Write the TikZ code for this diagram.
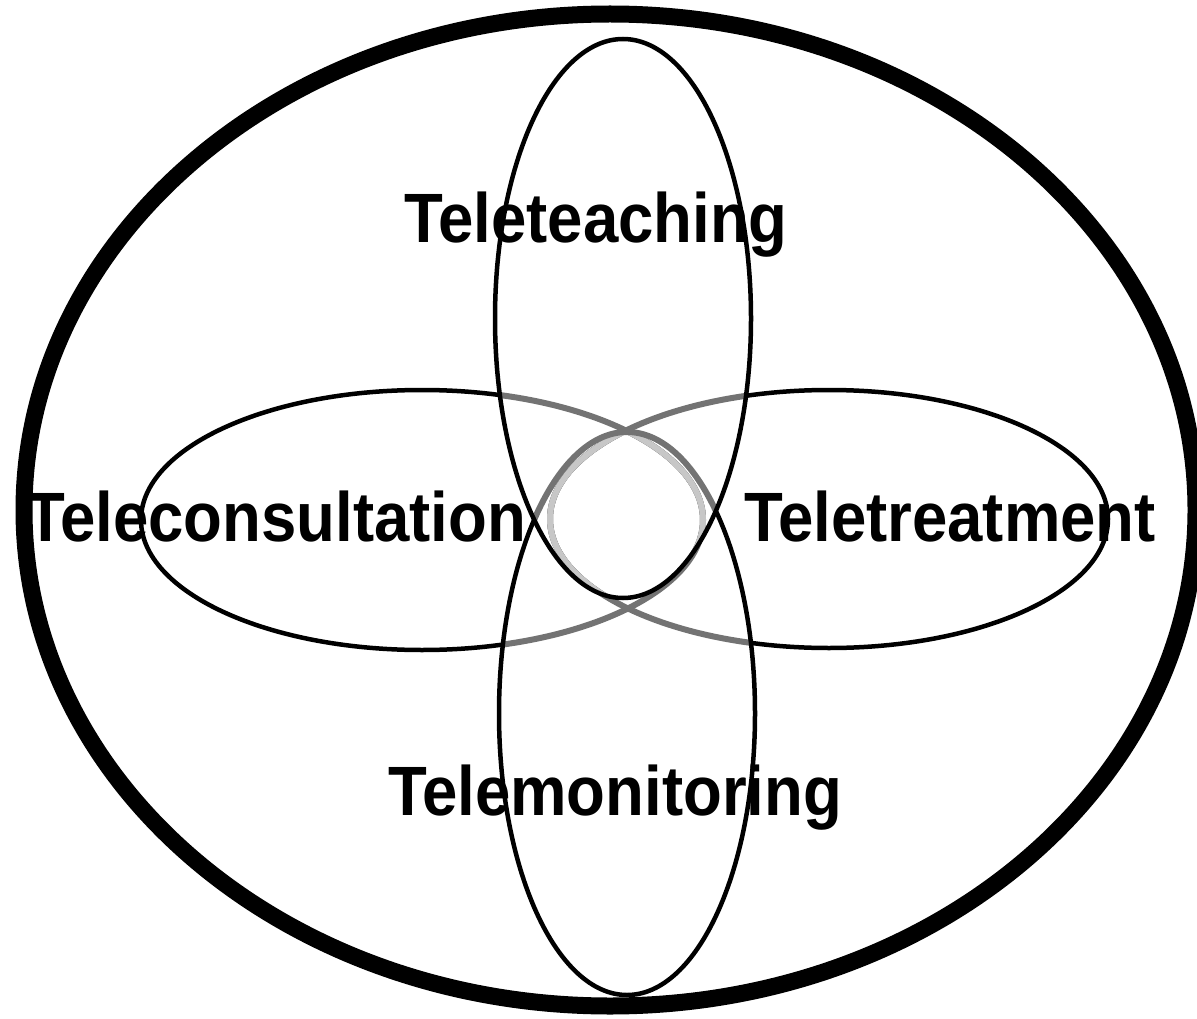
\documentclass[tikz,border=0pt]{standalone}
\usepackage{fontspec}
\setmainfont{Liberation Sans}
\begin{document}
\begin{tikzpicture}[x=1pt,y=-1pt,
  petal/.style={line width=4.5pt, draw=black},
  shade1/.style={line width=6pt, draw=black!55},
  shade2/.style={line width=6pt, draw=black!22},
  label/.style={font=\bfseries\fontsize{63.5}{64}\selectfont, inner sep=0pt, anchor=base, yscale=1.1, transform shape}]
\useasboundingbox (0,0) rectangle (1197,1019);

% petal geometry
\def\topE{(623,318.5) ellipse [x radius=128pt, y radius=279.5pt]}
\def\botE{(627,713.5) ellipse [x radius=128pt, y radius=281.5pt]}
\def\leftE{(422,520) ellipse [x radius=281pt, y radius=130pt]}
\def\rightE{(829,519) ellipse [x radius=279pt, y radius=129pt]}
\def\frameR{(-50,-50) rectangle (1250,1070)}

% horizontal petals where they lie inside one vertical petal
\begin{scope}
  \clip \topE;
  \draw[shade1] \leftE; \draw[shade1] \rightE;
\end{scope}
\begin{scope}
  \clip \botE;
  \draw[shade1] \leftE; \draw[shade1] \rightE;
\end{scope}
% ... and inside both vertical petals
\begin{scope}
  \clip \topE; \clip \botE;
  \draw[shade2] \leftE; \draw[shade2] \rightE;
\end{scope}
% lower petal inside the upper one
\begin{scope}
  \clip \topE;
  \draw[shade1] \botE;
\end{scope}

% horizontal petals outside both vertical petals
\begin{scope}[even odd rule]
  \clip \frameR \topE;
  \clip \frameR \botE;
  \draw[petal] \leftE; \draw[petal] \rightE;
\end{scope}
% lower petal outside the upper one
\begin{scope}[even odd rule]
  \clip \frameR \topE;
  \draw[petal] \botE;
\end{scope}
\draw[petal] \topE;

% enclosing ellipse
\draw[line width=17pt] (610,510) ellipse [x radius=586pt, y radius=496pt];

% labels
\node[label] (teach) at (596,243) {Teleteaching};
\node[label] (consult) at (276,541) {Teleconsultation};
\node[label] (treat) at (950,541) {Teletreatment};
\node[label] (monitor) at (615,815) {Telemonitoring};
\end{tikzpicture}
\end{document}
